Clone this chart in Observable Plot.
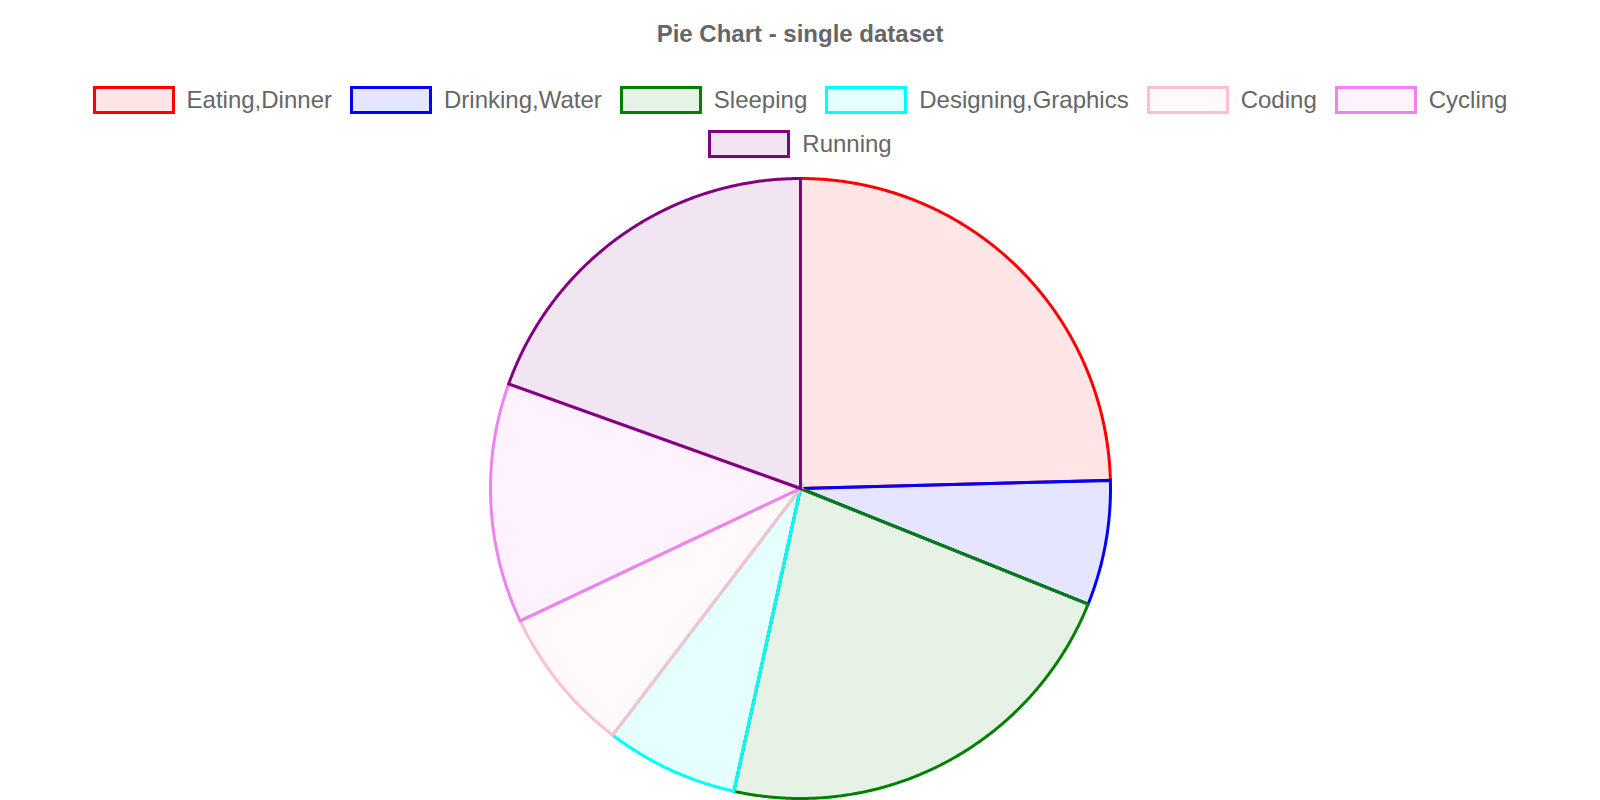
<!DOCTYPE html>
<html>
<head>
<meta charset="utf-8">
<script src="https://cdn.jsdelivr.net/npm/d3@7"></script>
<script src="https://cdn.jsdelivr.net/npm/@observablehq/plot@0.6"></script>
<style>
  html, body { margin: 0; padding: 0; background: #fff; }
  body { width: 1600px; height: 800px; position: relative; overflow: hidden;
         font-family: "Liberation Sans", Arial, Helvetica, sans-serif; color: #666; }
  #title { position: absolute; top: 19px; left: 0; width: 1600px; text-align: center;
           font-size: 24px; font-weight: bold; line-height: 30px; color: #666; }
  #legend { position: absolute; top: 78px; left: 0; width: 1600px; box-sizing: border-box;
            padding: 0 20px; display: flex; flex-wrap: wrap; justify-content: center;
            column-gap: 18px; }
  .item { display: flex; align-items: center; height: 44px; font-size: 24px; color: #666; }
  .box { width: 76px; height: 22px; border: 3px solid; margin-right: 12px; }
  #chart { position: absolute; top: 168px; left: 0; }
</style>
</head>
<body>
<div id="title">Pie Chart - single dataset</div>
<div id="legend"></div>
<div id="chart"></div>
<script>
const labels = ["Eating,Dinner", "Drinking,Water", "Sleeping", "Designing,Graphics", "Coding", "Cycling", "Running"];
const values = [88.5, 23.4, 80.5, 24.9, 27.4, 45.0, 70.3];
const colors = ["red", "blue", "green", "cyan", "pink", "violet", "purple"];
const fillAlpha = 0.1;

// legend
const legend = document.getElementById("legend");
labels.forEach((l, i) => {
  const c = d3.color(colors[i]);
  const item = document.createElement("div");
  item.className = "item";
  const box = document.createElement("div");
  box.className = "box";
  box.style.borderColor = colors[i];
  box.style.background = `rgba(${c.r},${c.g},${c.b},${fillAlpha})`;
  const txt = document.createElement("span");
  txt.textContent = l;
  item.appendChild(box);
  item.appendChild(txt);
  legend.appendChild(item);
});

// slices as closed polygons through d3.pie angles
const arcs = d3.pie().sort(null).value(d => d.value)(labels.map((label, i) => ({label, value: values[i]})));
const pts = [];
arcs.forEach(a => {
  const label = a.data.label;
  pts.push({label, x: 0, y: 0});
  const n = Math.max(2, Math.ceil((a.endAngle - a.startAngle) / 0.005));
  for (let k = 0; k <= n; k++) {
    const t = a.startAngle + (a.endAngle - a.startAngle) * k / n;
    pts.push({label, x: Math.sin(t), y: Math.cos(t)});
  }
});

const R = 310, cx = 800, cy = 320;
const plot = Plot.plot({
  width: 1600,
  height: 632,
  margin: 0,
  x: {domain: [-1, 1], range: [cx - R, cx + R], axis: null},
  y: {domain: [-1, 1], range: [cy + R, cy - R], axis: null},
  color: {domain: labels, range: colors},
  marks: [
    Plot.line(pts, {x: "x", y: "y", z: "label", fill: "label", fillOpacity: fillAlpha,
      stroke: "label", strokeWidth: 3, curve: "linear-closed", strokeLinejoin: "miter", strokeMiterlimit: 10})
  ]
});
document.getElementById("chart").appendChild(plot);
</script>
</body>
</html>
